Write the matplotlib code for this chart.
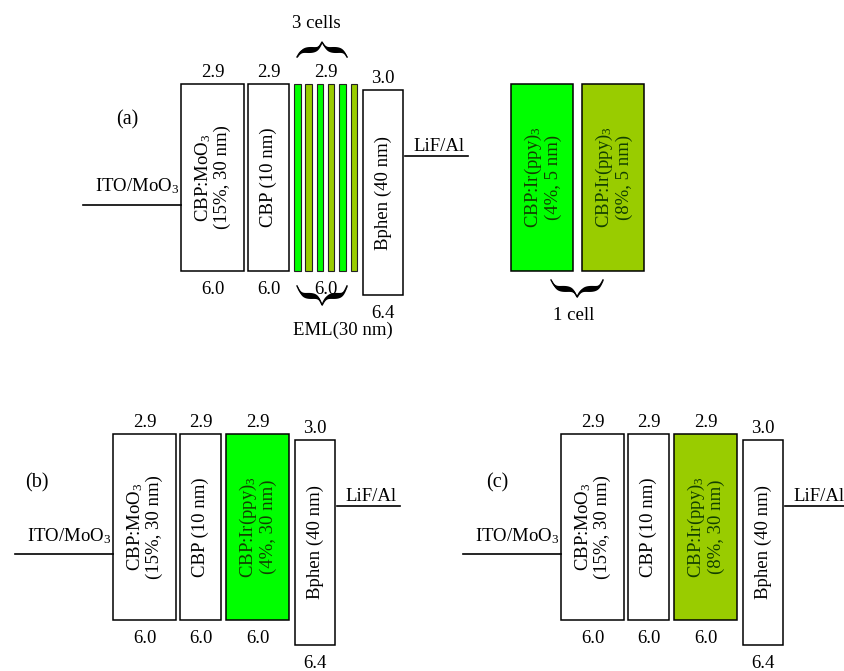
import numpy as np
import matplotlib.pyplot as plt
from matplotlib.patches import Rectangle

plt.rcParams["font.family"] = "Liberation Serif"
plt.rcParams["mathtext.fontset"] = "custom"
plt.rcParams["mathtext.rm"] = "Liberation Serif"
plt.rcParams["mathtext.it"] = "Liberation Serif:italic"

# energy levels (eV): hole transport, blocking layer, EML, Bphen
layer_names = ["CBP:MoO$_3$\n(15%, 30 nm)", "CBP (10 nm)", "EML", "Bphen (40 nm)"]
lumo = [2.9, 2.9, 2.9, 3.0]
homo = [6.0, 6.0, 6.0, 6.4]
anode_name = "ITO/MoO$_3$"
anode_level = 4.9
cathode_name = "LiF/Al"
cathode_level = 4.1

# emitting layers
eml_b = "CBP:Ir(ppy)$_3$\n(4%, 30 nm)"
eml_c = "CBP:Ir(ppy)$_3$\n(8%, 30 nm)"
cell_names = ["CBP:Ir(ppy)$_3$\n(4%, 5 nm)", "CBP:Ir(ppy)$_3$\n(8%, 5 nm)"]
cell_colors = ["#00ff00", "#99cc00"]
n_cells = 3

W, H = 844, 671
S = 60.3  # pixels per eV
FS = 13.5
box_x = [(113, 176), (180, 221), (226, 289), (295, 335)]
green_text = "#123f00"

fig = plt.figure(figsize=(8.44, 6.71), dpi=100)


def panel(x_off, top_row):
    ax = fig.add_axes([0, 0, 1, 1])
    ax.set_xlim(-x_off, W - x_off)
    ax.set_ylim(lumo[0] + (H - top_row) / S, lumo[0] - top_row / S)
    ax.axis("off")
    ax.patch.set_visible(False)
    return ax


def brace(ax, x0, x1, y_end, y_tip, tmax=5.0):
    t = np.linspace(0, 1, 120)
    k = 12
    c = 1 / (1 + np.exp(-k * t)) + 1 / (1 + np.exp(-k * (t - 1)))
    c = (c - c[0]) / (c[-1] - c[0])
    half = (x1 - x0) / 2
    xs = np.concatenate([x0 + t * half, x1 - t[::-1] * half])
    ys = np.concatenate([y_end + c * (y_tip - y_end), y_end + c[::-1] * (y_tip - y_end)])
    th = np.concatenate([np.sin(np.pi * t), np.sin(np.pi * t[::-1])]) * tmax + 1.0
    ax.fill_between(xs, ys - th / 2 / S, ys + th / 2 / S, color="k", lw=0)
    ax.plot(xs, ys, color="k", lw=1.0)


def draw_stack(ax, eml_label=None, eml_color=None):
    left = box_x[0][0]
    right = box_x[3][1]
    ax.plot([left - 98, left], [anode_level] * 2, color="k", lw=1.2)
    ax.text(left - 2, anode_level - 13 / S, anode_name, ha="right", va="baseline", fontsize=FS)
    ax.plot([right + 2, right + 65], [cathode_level] * 2, color="k", lw=1.2)
    ax.text(right + 36, cathode_level - 5 / S, cathode_name, ha="center", va="baseline", fontsize=FS)

    for i, (x0, x1) in enumerate(box_x):
        xc = (x0 + x1) / 2
        ax.text(xc, lumo[i] - 7 / S, f"{lumo[i]:.1f}", ha="center", va="baseline", fontsize=FS)
        ax.text(xc, homo[i] + 23 / S, f"{homo[i]:.1f}", ha="center", va="baseline", fontsize=FS)
        if i == 2:
            if eml_color is None:
                # multi-cell EML drawn as thin strips
                n = 2 * n_cells
                sw = 6.5
                pitch = (x1 - x0 - sw) / (n - 1)
                for k in range(n):
                    ax.add_patch(Rectangle((x0 + k * pitch, lumo[i]), sw, homo[i] - lumo[i],
                                           fc=cell_colors[k % 2], ec="#222222", lw=0.8))
                continue
            ax.add_patch(Rectangle((x0, lumo[i]), x1 - x0, homo[i] - lumo[i],
                                   fc=eml_color, ec="k", lw=1.1))
            ax.text(xc, (lumo[i] + homo[i]) / 2, eml_label, rotation=90, ha="center", va="center",
                    multialignment="center", fontsize=FS, linespacing=1.05, color=green_text)
            continue
        ax.add_patch(Rectangle((x0, lumo[i]), x1 - x0, homo[i] - lumo[i],
                               fc="white", ec="k", lw=1.1))
        ax.text(xc, (lumo[i] + homo[i]) / 2, layer_names[i], rotation=90, ha="center", va="center",
                multialignment="center", fontsize=FS, linespacing=1.05)


# (a) multi-cell device
ax_a = panel(68, 84)
draw_stack(ax_a)
ax_a.text(59, lumo[0] + 36 / S, "(a)", ha="center", va="center", fontsize=14.5)
brace(ax_a, 229, 279, lumo[2] - 27 / S, lumo[2] - 42 / S)
ax_a.text(248, lumo[2] - 56 / S, f"{n_cells} cells", ha="center", va="baseline", fontsize=FS)
brace(ax_a, 229, 279, homo[2] + 15 / S, homo[2] + 34 / S)
ax_a.text(275, homo[2] + 64 / S, "EML(30 nm)", ha="center", va="baseline", fontsize=FS)

cell_x = [(443, 505), (514, 576)]
for (x0, x1), name, col in zip(cell_x, cell_names, cell_colors):
    ax_a.add_patch(Rectangle((x0, lumo[2]), x1 - x0, homo[2] - lumo[2], fc=col, ec="k", lw=1.1))
    ax_a.text((x0 + x1) / 2, (lumo[2] + homo[2]) / 2, name, rotation=90, ha="center", va="center",
              multialignment="center", fontsize=FS, linespacing=1.05, color=green_text)
brace(ax_a, 483, 535, homo[2] + 9 / S, homo[2] + 26 / S)
ax_a.text(506, homo[2] + 49 / S, "1 cell", ha="center", va="baseline", fontsize=FS)

# (b) 4% single EML
ax_b = panel(0, 433.5)
draw_stack(ax_b, eml_b, cell_colors[0])
ax_b.text(37, lumo[0] + 49 / S, "(b)", ha="center", va="center", fontsize=14.5)

# (c) 8% single EML
ax_c = panel(448, 433.5)
draw_stack(ax_c, eml_c, cell_colors[1])
ax_c.text(49, lumo[0] + 49 / S, "(c)", ha="center", va="center", fontsize=14.5)

fig.savefig("out.png", dpi=100)
